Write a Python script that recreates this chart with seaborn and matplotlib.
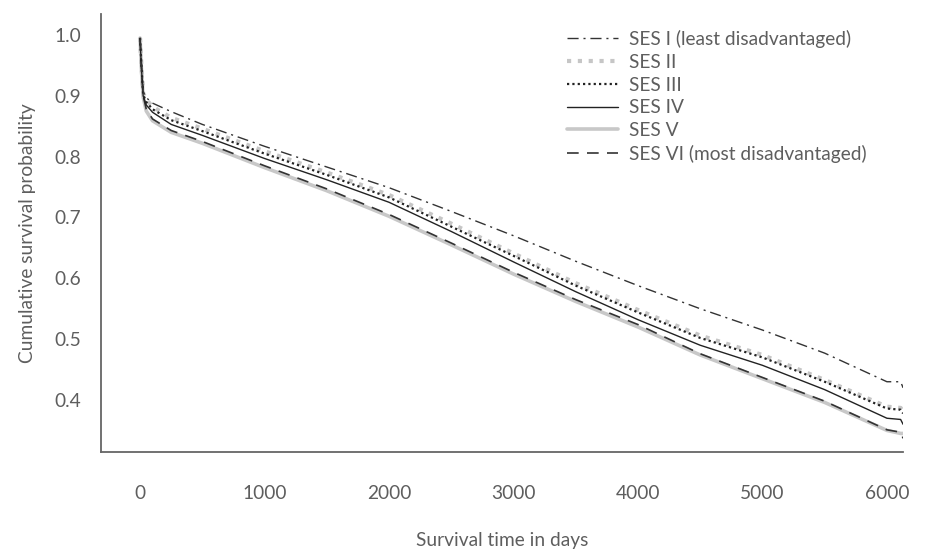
import matplotlib
matplotlib.use("Agg")
import matplotlib.pyplot as plt
import seaborn as sns
import pandas as pd

days = [0, 10, 25, 50, 100, 250, 500, 1000, 1500, 2000, 2500, 3000, 3500,
        4000, 4500, 5000, 5500, 6000, 6110, 6130]

ses_1 = [0.995, 0.960, 0.907, 0.897, 0.888, 0.874, 0.853, 0.817, 0.783, 0.749,
         0.710, 0.670, 0.628, 0.588, 0.550, 0.515, 0.477, 0.430, 0.430, 0.420]
ses_2 = [0.995, 0.955, 0.904, 0.894, 0.882, 0.864, 0.846, 0.809, 0.774, 0.737,
         0.690, 0.641, 0.592, 0.548, 0.506, 0.474, 0.433, 0.389, 0.387, 0.381]
ses_3 = [0.995, 0.955, 0.902, 0.890, 0.878, 0.860, 0.842, 0.805, 0.770, 0.733,
         0.685, 0.637, 0.588, 0.544, 0.502, 0.470, 0.430, 0.386, 0.384, 0.378]
ses_4 = [0.995, 0.950, 0.900, 0.885, 0.873, 0.853, 0.835, 0.797, 0.762, 0.725,
         0.677, 0.627, 0.578, 0.532, 0.490, 0.457, 0.417, 0.370, 0.368, 0.360]
ses_5 = [0.995, 0.948, 0.898, 0.875, 0.859, 0.840, 0.822, 0.782, 0.744, 0.702,
         0.655, 0.607, 0.562, 0.520, 0.474, 0.435, 0.396, 0.350, 0.345, 0.345]
ses_6 = [0.995, 0.950, 0.900, 0.878, 0.862, 0.843, 0.825, 0.785, 0.747, 0.705,
         0.658, 0.610, 0.565, 0.524, 0.476, 0.437, 0.398, 0.351, 0.347, 0.337]

labels = ["SES I (least disadvantaged)", "SES II", "SES III", "SES IV",
          "SES V", "SES VI (most disadvantaged)"]
series = [ses_1, ses_2, ses_3, ses_4, ses_5, ses_6]

x_ticks = [0, 1000, 2000, 3000, 4000, 5000, 6000]
y_ticks = [0.4, 0.5, 0.6, 0.7, 0.8, 0.9, 1.0]

styles = {
    "SES I (least disadvantaged)": dict(color="#333333", lw=1.0, ls=(0, (8, 3.5, 1.5, 3.5)), z=5),
    "SES II": dict(color="#c6c6c6", lw=3.0, ls=(0, (1, 1.6)), z=2),
    "SES III": dict(color="#222222", lw=1.6, ls=(0, (1, 1.4)), z=4),
    "SES IV": dict(color="#222222", lw=1.0, ls="-", z=4),
    "SES V": dict(color="#c8c8c8", lw=2.6, ls="-", z=1),
    "SES VI (most disadvantaged)": dict(color="#333333", lw=1.2, ls=(0, (7, 5)), z=3),
}

sns.set_style("white")
plt.rcParams["font.family"] = ["Lato", "DejaVu Sans"]

FS = 13.8
fig = plt.figure(figsize=(9.29, 5.57), dpi=100)
ax = fig.add_axes([0.1084, 0.1885, 0.972 - 0.1084, 0.9749 - 0.1885])

text_color = "#5e5e5e"
for lab, vals in zip(labels, series):
    st = styles[lab]
    df = pd.DataFrame({"days": days, "surv": vals})
    sns.lineplot(data=df, x="days", y="surv", ax=ax, color=st["color"],
                 linewidth=st["lw"], linestyle=st["ls"], label=lab,
                 estimator=None, sort=False, zorder=st["z"])

ax.set_xlim(-316, 6129)
ax.set_ylim(0.3145, 1.0345)
ax.set_xticks(x_ticks)
ax.set_yticks(y_ticks)
ax.set_yticklabels([f"{v:.1f}" for v in y_ticks])

for s in ["top", "right"]:
    ax.spines[s].set_visible(False)
for s in ["left", "bottom"]:
    ax.spines[s].set_color("#666666")
    ax.spines[s].set_linewidth(1.3)

ax.tick_params(axis="both", which="major", direction="out", length=8,
               width=1.1, color="#555555", labelcolor=text_color, labelsize=FS)
ax.tick_params(axis="x", pad=16)
ax.tick_params(axis="y", pad=6)

ax.set_xlabel("Survival time in days", fontsize=FS, color=text_color, labelpad=21)
ax.set_ylabel("Cumulative survival probability", fontsize=FS, color=text_color, labelpad=13)

leg = ax.legend(loc="upper left", bbox_to_anchor=(567 / 929, 1 - 30 / 557),
                bbox_transform=fig.transFigure, frameon=False, fontsize=FS,
                handlelength=2.65, handletextpad=0.58, labelspacing=0.3,
                borderpad=0, borderaxespad=0)
for t in leg.get_texts():
    t.set_color(text_color)

fig.savefig("out.png", dpi=100)
